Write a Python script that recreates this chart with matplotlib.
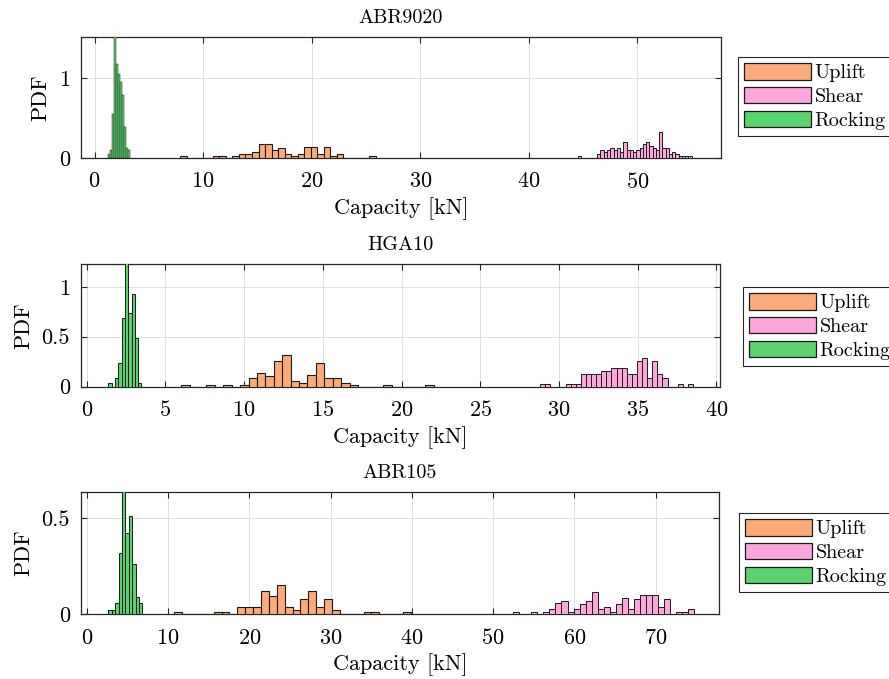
import numpy as np
import matplotlib
matplotlib.use('Agg')
import matplotlib.pyplot as plt
from matplotlib.patches import Patch

plt.rcParams['font.family'] = 'serif'
plt.rcParams['font.serif'] = ['cmr10']
plt.rcParams['mathtext.fontset'] = 'cm'
plt.rcParams['axes.formatter.use_mathtext'] = True

# ---- data: bin start, bin width, bin heights (PDF) ----
# ABR9020
abr9020_rock_start, abr9020_rock_w = 1.24, 0.183
abr9020_rock = [0.05, 0.1, 0.55, 1.8, 1.17, 1.05, 0.95, 0.79, 0.39, 0.12, 0.1]
abr9020_upl_start, abr9020_upl_w = 7.9, 0.6
abr9020_upl = [0.03, 0, 0, 0, 0, 0.025, 0.025, 0, 0.02, 0.05, 0.05, 0.08, 0.17, 0.17,
               0.1, 0.12, 0.05, 0.03, 0.05, 0.14, 0.14, 0.05, 0.14, 0.03, 0.05,
               0, 0, 0, 0, 0.03]
abr9020_sh_start, abr9020_sh_w = 44.5, 0.3
abr9020_sh = [0.025, 0, 0, 0, 0, 0,
              0.05, 0.1, 0.07, 0.1, 0.12, 0.1, 0.12, 0.07, 0.2, 0.1, 0.1, 0.07, 0.1,
              0.12, 0.17, 0.2, 0.15, 0.12, 0.1, 0.32, 0.13, 0.12, 0.05, 0.08, 0.05,
              0.03, 0.02, 0.02, 0.02]

# HGA10
hga10_rock_start, hga10_rock_w = 1.38, 0.21
hga10_rock = [0.04, 0, 0.09, 0.24, 0.69, 1.5, 0.74, 0.93, 0.49, 0.04]
hga10_upl_start, hga10_upl_w = 6.0, 0.535
hga10_upl = [0.02, 0, 0, 0.02, 0, 0.02, 0, 0.02, 0.09, 0.14, 0.11, 0.26, 0.32, 0.06,
             0.04, 0.12, 0.24, 0.09, 0.09, 0.04, 0.02, 0, 0, 0, 0.02, 0, 0, 0, 0, 0.02]
hga10_sh_start, hga10_sh_w = 28.8, 0.324
hga10_sh = [0.03, 0.03, 0, 0, 0, 0.03, 0.03, 0.03, 0.13, 0.13, 0.13, 0.13, 0.16, 0.16,
            0.19, 0.19, 0.19, 0.13, 0.13, 0.26, 0.29, 0.09, 0.26, 0.13, 0.09, 0, 0,
            0.03, 0, 0.03]

# ABR105
abr105_rock_start, abr105_rock_w = 2.66, 0.42
abr105_rock = [0.023, 0.023, 0.06, 0.32, 0.9, 0.42, 0.51, 0.26, 0.09, 0.06]
abr105_upl_start, abr105_upl_w = 10.78, 0.97
abr105_upl = [0.01, 0, 0, 0, 0, 0.01, 0.01, 0, 0.036, 0.036, 0.036, 0.12, 0.095, 0.15,
              0.036, 0.024, 0.08, 0.12, 0.036, 0.08, 0.024, 0, 0, 0, 0.01, 0.01, 0,
              0, 0, 0.01]
abr105_sh_start, abr105_sh_w = 52.5, 0.74
abr105_sh = [0.012, 0, 0, 0.012, 0, 0.012, 0.026, 0.057, 0.07, 0.01, 0.028, 0.054,
             0.07, 0.118, 0.026, 0.04, 0.014, 0.054, 0.083, 0.026, 0.08, 0.1, 0.1,
             0.1, 0.04, 0.08, 0, 0.012, 0.012, 0.026]

titles = ['ABR9020', 'HGA10', 'ABR105']
labels = ['Uplift', 'Shear', 'Rocking']
c_upl = '#FDAA79'
c_sh = '#FDA6DC'
c_rock = '#5AD26E'

panels = [
    dict(rock=(abr9020_rock_start, abr9020_rock_w, abr9020_rock),
         upl=(abr9020_upl_start, abr9020_upl_w, abr9020_upl),
         sh=(abr9020_sh_start, abr9020_sh_w, abr9020_sh),
         xlim=(-1.25, 57.7), ylim=(0, 1.51), xt=np.arange(0, 51, 10), yt=[0, 1]),
    dict(rock=(hga10_rock_start, hga10_rock_w, hga10_rock),
         upl=(hga10_upl_start, hga10_upl_w, hga10_upl),
         sh=(hga10_sh_start, hga10_sh_w, hga10_sh),
         xlim=(-0.36, 40.23), ylim=(0, 1.23), xt=np.arange(0, 41, 5), yt=[0, 0.5, 1]),
    dict(rock=(abr105_rock_start, abr105_rock_w, abr105_rock),
         upl=(abr105_upl_start, abr105_upl_w, abr105_upl),
         sh=(abr105_sh_start, abr105_sh_w, abr105_sh),
         xlim=(-0.7, 77.8), ylim=(0, 0.635), xt=np.arange(0, 71, 10), yt=[0, 0.5]),
]

W, H = 889, 679
fig = plt.figure(figsize=(W / 100, H / 100), dpi=100)
axbox = [(81, 37, 721, 158), (81, 264, 720, 386.5), (81, 492, 719, 614.3)]
legpos = [(738, 57), (743, 287), (739, 513)]

def hbar(ax, spec, color, lw):
    start, w, h = spec
    h = np.array(h, dtype=float)
    left = start + w * np.arange(len(h))
    ax.bar(left, h, width=w, align='edge', color=color, edgecolor='#1a1a1a',
           linewidth=lw, zorder=3)

for i, p in enumerate(panels):
    x0, y0, x1, y1 = axbox[i]
    ax = fig.add_axes([x0 / W, 1 - y1 / H, (x1 - x0) / W, (y1 - y0) / H])
    hbar(ax, p['upl'], c_upl, 0.8)
    hbar(ax, p['sh'], c_sh, 0.7)
    hbar(ax, p['rock'], c_rock, 0.35 if i == 0 else 0.7)
    ax.set_xlim(p['xlim'])
    ax.set_ylim(p['ylim'])
    ax.set_xticks(p['xt'])
    ax.set_yticks(p['yt'])
    ax.set_yticklabels([('%g' % v) for v in p['yt']])
    ax.grid(True, color='#e0e0e0', linewidth=0.7, zorder=0)
    ax.set_axisbelow(True)
    ax.tick_params(direction='in', top=True, right=True, length=4, width=0.8,
                   labelsize=16, color='#262626')
    ax.tick_params(axis='x', pad=10)
    ax.tick_params(axis='y', pad=8)
    for s in ax.spines.values():
        s.set_linewidth(0.9)
        s.set_color('#262626')
    ax.set_title(titles[i], fontsize=14.5, pad=10)
    ax.set_xlabel('Capacity [kN]', fontsize=16, labelpad=4)
    ax.set_ylabel('PDF', fontsize=16, labelpad=6)
    handles = [Patch(facecolor=c, edgecolor='#1a1a1a', linewidth=0.9)
               for c in (c_upl, c_sh, c_rock)]
    lx, ly = legpos[i]
    leg = ax.legend(handles, labels, loc='upper left',
                    bbox_to_anchor=(lx / W, 1 - ly / H), bbox_transform=fig.transFigure,
                    borderaxespad=0, fontsize=14.5, handlelength=3.3, handleheight=0.9,
                    handletextpad=0.2, labelspacing=0.22, borderpad=0.3,
                    fancybox=False, framealpha=1, edgecolor='#262626')
    leg.get_frame().set_linewidth(0.8)

fig.savefig('out.png', dpi=100)
